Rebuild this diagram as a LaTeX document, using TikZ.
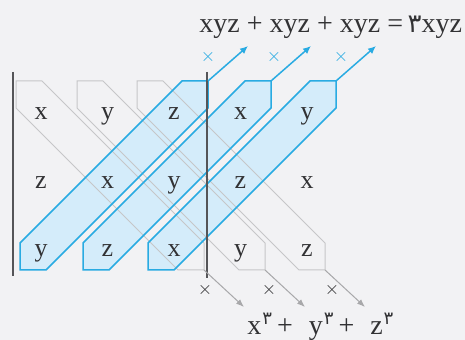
\documentclass[tikz,border=0pt]{standalone}
\usepackage{fontspec}
\setmainfont{Liberation Serif}
\newfontfamily\arabicfont[Script=Arabic]{DejaVu Sans}
\usetikzlibrary{arrows.meta}

\definecolor{bandblue}{RGB}{41,171,226}
\definecolor{bandfill}{RGB}{212,236,250}
\definecolor{bandgray}{RGB}{198,198,200}
\definecolor{rulegray}{RGB}{85,85,88}
\definecolor{inkgray}{RGB}{50,50,52}
\definecolor{paper}{RGB}{242,242,244}

\newcommand{\threeup}{\raisebox{5pt}{\arabicfont\fontsize{9}{11}\selectfont ۳}}

\begin{document}
\begin{tikzpicture}[x=0.5pt, y=-0.5pt,
    cell/.style={font=\fontsize{13}{15}\selectfont, text=inkgray, inner sep=0pt, anchor=base},
    bluebar/.style={draw=bandblue, line width=0.75pt, line join=miter},
    graybar/.style={draw=bandgray, line width=0.5pt},
    uparrow/.style={draw=bandblue, line width=0.75pt, -{Latex[length=4pt, width=3.5pt]}},
    downarrow/.style={draw=bandgray!85!black, line width=0.5pt, -{Latex[length=4pt, width=3pt]}},
    crossmark/.style={inner sep=0pt, font=\fontsize{9}{10}\selectfont},
    rule/.style={draw=rulegray, line width=1pt}]
  \fill[paper] (0,0) rectangle (465,340);
  \useasboundingbox (0,0) rectangle (465,340);
  \def\bw{188}
  \def\bc{26}
  % blue fills first, gray outlines above them
  \foreach \L in {20,83,148} {
    \fill[bandfill] (\L,270) -- (\L+\bc,270) -- (\L+\bw,108) -- (\L+\bw,81)
      -- (\L+\bw-\bc,81) -- (\L,243) -- cycle;
  }
  \foreach \L/\k in {16/1,77/2,137/3} {
    \draw[graybar] (\L,81) -- (\L+\bc,81) -- (\L+\bw,243) -- (\L+\bw,270)
      -- (\L+\bw-\bc,270) -- (\L,108) -- cycle;
    \coordinate (dn\k) at (\L+\bw,270);
    \coordinate (dnend\k) at (\L+\bw+40,307);
  }
  \foreach \L/\k in {20/1,83/2,148/3} {
    \draw[bluebar] (\L,270) -- (\L+\bc,270) -- (\L+\bw,108) -- (\L+\bw,81)
      -- (\L+\bw-\bc,81) -- (\L,243) -- cycle;
    \coordinate (up\k) at (\L+\bw,81);
    \coordinate (upend\k) at (\L+\bw+40,46);
  }
  % the matrix, column by column
  \foreach \c/\a/\b/\d in {1/x/z/y, 2/y/x/z, 3/z/y/x, 4/x/z/y, 5/y/x/z} {
    \node[cell] (m-1-\c) at (41+66.5*\c-66.5,120) {\a};
    \node[cell] (m-2-\c) at (41+66.5*\c-66.5,188.5) {\b};
    \node[cell] (m-3-\c) at (41+66.5*\c-66.5,257) {\d};
  }
  \draw[rule] (13,72) -- (13,276);
  \draw[rule] (207,72) -- (207,278);
  \foreach \k/\tx/\bx in {1/208/205, 2/274/269, 3/341/332} {
    \draw[uparrow] (up\k) -- (upend\k);
    \draw[downarrow] (dn\k) -- (dnend\k);
    \node[crossmark, text=bandblue] (tx\k) at (\tx,57) {$\times$};
    \node[crossmark, text=inkgray] (bx\k) at (\bx,290) {$\times$};
  }
  \node[anchor=base west, inner sep=0pt, text=inkgray, font=\fontsize{14}{16}\selectfont] (sumup) at (199,33)
    {xyz + xyz + xyz =\,{\arabicfont\fontsize{13}{15}\selectfont ۳}xyz};
  \node[anchor=base west, inner sep=0pt, text=inkgray, font=\fontsize{14}{16}\selectfont] (sumdown) at (247,335)
    {x\hspace{0.5pt}\threeup\hspace{2.5pt}+\hspace{8pt}y\hspace{0.5pt}\threeup\hspace{2.5pt}+\hspace{8pt}z\hspace{0.5pt}\threeup};
\end{tikzpicture}
\end{document}
